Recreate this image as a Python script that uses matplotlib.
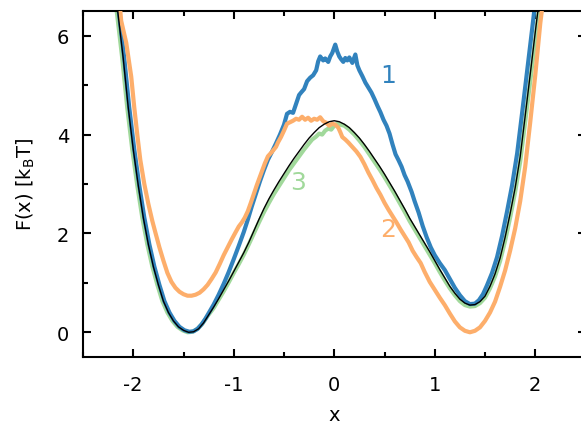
import numpy as np
import matplotlib
matplotlib.use("Agg")
import matplotlib.pyplot as plt
from matplotlib.ticker import MultipleLocator

plt.rcParams['mathtext.default'] = 'regular'
plt.rcParams['axes.unicode_minus'] = False

# curva teorica (negro)
x_teo = [-2.17, -2.15, -2.10, -2.05, -2.00, -1.95, -1.90, -1.85, -1.80, -1.75, -1.70, -1.65,
         -1.60, -1.55, -1.50, -1.45, -1.40, -1.35, -1.30, -1.25, -1.20, -1.15, -1.10, -1.05,
         -1.00, -0.95, -0.90, -0.85, -0.80, -0.75, -0.70, -0.65, -0.60, -0.55, -0.50, -0.45,
         -0.40, -0.35, -0.30, -0.25, -0.20, -0.15, -0.10, -0.05, 0.00, 0.05, 0.10, 0.15,
         0.20, 0.25, 0.30, 0.35, 0.40, 0.45, 0.50, 0.55, 0.60, 0.65, 0.70, 0.75,
         0.80, 0.85, 0.90, 0.95, 1.00, 1.05, 1.10, 1.15, 1.20, 1.25, 1.30, 1.35,
         1.40, 1.45, 1.50, 1.55, 1.60, 1.65, 1.70, 1.75, 1.80, 1.85, 1.90, 1.95,
         2.00, 2.05]
F_teo = [6.75, 6.42, 5.55, 4.55, 3.70, 2.97, 2.32, 1.78, 1.33, 0.96, 0.63, 0.40,
         0.23, 0.11, 0.04, 0.00, 0.01, 0.07, 0.19, 0.35, 0.51, 0.68, 0.86, 1.04,
         1.23, 1.42, 1.61, 1.82, 2.05, 2.28, 2.50, 2.70, 2.88, 3.05, 3.21, 3.37,
         3.52, 3.66, 3.80, 3.93, 4.04, 4.14, 4.21, 4.26, 4.28, 4.26, 4.21, 4.14,
         4.04, 3.93, 3.80, 3.66, 3.51, 3.36, 3.20, 3.03, 2.86, 2.68, 2.50, 2.31,
         2.14, 1.97, 1.80, 1.63, 1.45, 1.27, 1.10, 0.93, 0.79, 0.67, 0.59, 0.55,
         0.56, 0.62, 0.73, 0.93, 1.18, 1.50, 1.92, 2.40, 2.92, 3.55, 4.38, 5.22,
         6.07, 6.90]

# simulacion 1 (azul)
x_1 = [-2.16, -2.14, -2.09, -2.04, -1.99, -1.94, -1.89, -1.84, -1.79, -1.74, -1.69, -1.64,
       -1.59, -1.54, -1.49, -1.44, -1.40, -1.36, -1.32, -1.28, -1.24, -1.20, -1.15, -1.10,
       -1.05, -1.00, -0.95, -0.90, -0.86, -0.82, -0.78, -0.74, -0.70, -0.66, -0.62, -0.58,
       -0.54, -0.50, -0.47, -0.44, -0.41, -0.38, -0.35, -0.33, -0.30, -0.27, -0.24, -0.21,
       -0.18, -0.16, -0.14, -0.11, -0.09, -0.06, -0.04, -0.02, 0.01, 0.03, 0.05, 0.07,
       0.09, 0.11, 0.13, 0.15, 0.18, 0.21, 0.23, 0.25, 0.28, 0.31, 0.34, 0.37,
       0.40, 0.43, 0.46, 0.49, 0.52, 0.55, 0.58, 0.61, 0.64, 0.67, 0.70, 0.73,
       0.77, 0.80, 0.84, 0.88, 0.92, 0.96, 1.00, 1.05, 1.10, 1.15, 1.20, 1.25,
       1.30, 1.35, 1.40, 1.44, 1.48, 1.52, 1.57, 1.62, 1.67, 1.72, 1.77, 1.82,
       1.87, 1.92, 1.97, 2.01]
F_1 = [6.75, 6.42, 5.55, 4.55, 3.70, 2.97, 2.32, 1.78, 1.33, 0.96, 0.63, 0.40,
       0.23, 0.11, 0.04, 0.01, 0.02, 0.07, 0.16, 0.28, 0.42, 0.56, 0.76, 0.98,
       1.22, 1.48, 1.75, 2.03, 2.28, 2.55, 2.80, 3.05, 3.28, 3.49, 3.65, 3.82,
       4.00, 4.20, 4.42, 4.46, 4.44, 4.62, 4.80, 4.85, 4.92, 5.08, 5.15, 5.20,
       5.30, 5.48, 5.58, 5.50, 5.54, 5.47, 5.58, 5.65, 5.82, 5.68, 5.58, 5.52,
       5.47, 5.55, 5.50, 5.56, 5.45, 5.62, 5.40, 5.30, 5.18, 5.05, 4.95, 4.85,
       4.72, 4.58, 4.45, 4.30, 4.18, 4.02, 3.80, 3.60, 3.48, 3.35, 3.18, 3.05,
       2.84, 2.65, 2.42, 2.15, 1.92, 1.72, 1.56, 1.40, 1.26, 1.08, 0.90, 0.75,
       0.63, 0.57, 0.58, 0.65, 0.77, 0.95, 1.20, 1.52, 1.95, 2.45, 2.98, 3.62,
       4.45, 5.30, 6.15, 6.85]

# simulacion 2 (naranja)
x_2 = [-2.14, -2.12, -2.07, -2.02, -1.99, -1.96, -1.93, -1.89, -1.85, -1.81, -1.78, -1.74,
       -1.70, -1.66, -1.62, -1.58, -1.54, -1.50, -1.46, -1.42, -1.38, -1.34, -1.30, -1.26,
       -1.22, -1.18, -1.14, -1.10, -1.06, -1.02, -0.98, -0.95, -0.92, -0.89, -0.86, -0.83,
       -0.80, -0.77, -0.73, -0.69, -0.66, -0.62, -0.58, -0.56, -0.53, -0.50, -0.47, -0.44,
       -0.41, -0.38, -0.35, -0.32, -0.29, -0.26, -0.23, -0.20, -0.17, -0.14, -0.11, -0.08,
       -0.05, -0.02, 0.01, 0.04, 0.06, 0.08, 0.11, 0.14, 0.18, 0.22, 0.26, 0.30,
       0.34, 0.38, 0.42, 0.46, 0.50, 0.54, 0.58, 0.62, 0.66, 0.70, 0.74, 0.78,
       0.82, 0.86, 0.90, 0.95, 1.00, 1.05, 1.10, 1.15, 1.20, 1.25, 1.30, 1.35,
       1.40, 1.45, 1.50, 1.55, 1.60, 1.65, 1.70, 1.75, 1.80, 1.85, 1.90, 1.95,
       2.00, 2.05, 2.08]
F_2 = [6.75, 6.30, 5.86, 5.17, 4.55, 4.00, 3.49, 3.00, 2.60, 2.25, 2.02, 1.72,
       1.45, 1.20, 1.02, 0.90, 0.82, 0.77, 0.74, 0.74, 0.76, 0.80, 0.87, 0.96,
       1.08, 1.21, 1.38, 1.56, 1.72, 1.88, 2.03, 2.14, 2.22, 2.32, 2.45, 2.62,
       2.80, 2.98, 3.20, 3.42, 3.56, 3.65, 3.75, 3.84, 3.95, 4.08, 4.22, 4.25,
       4.28, 4.32, 4.30, 4.36, 4.30, 4.34, 4.28, 4.32, 4.30, 4.35, 4.27, 4.24,
       4.18, 4.22, 4.20, 4.14, 4.05, 3.95, 3.90, 3.84, 3.75, 3.66, 3.55, 3.40,
       3.23, 3.08, 2.92, 2.78, 2.62, 2.48, 2.35, 2.22, 2.08, 1.95, 1.82, 1.65,
       1.52, 1.40, 1.22, 1.02, 0.86, 0.70, 0.55, 0.38, 0.22, 0.10, 0.03, 0.00,
       0.03, 0.10, 0.23, 0.40, 0.62, 0.92, 1.25, 1.65, 2.10, 2.65, 3.35, 4.25,
       5.20, 6.25, 6.75]

# simulacion 3 (verde)
x_3 = [-2.18, -2.16, -2.11, -2.06, -2.01, -1.96, -1.91, -1.86, -1.81, -1.76, -1.71, -1.66,
       -1.61, -1.56, -1.51, -1.46, -1.41, -1.36, -1.31, -1.26, -1.20, -1.15, -1.10, -1.05,
       -1.00, -0.95, -0.90, -0.85, -0.80, -0.75, -0.70, -0.65, -0.60, -0.55, -0.50, -0.45,
       -0.40, -0.35, -0.30, -0.26, -0.22, -0.18, -0.15, -0.12, -0.09, -0.06, -0.03, 0.00,
       0.03, 0.06, 0.10, 0.15, 0.20, 0.25, 0.30, 0.35, 0.40, 0.45, 0.50, 0.55,
       0.60, 0.65, 0.70, 0.75, 0.80, 0.85, 0.90, 0.95, 1.00, 1.05, 1.10, 1.15,
       1.20, 1.25, 1.30, 1.35, 1.40, 1.45, 1.50, 1.55, 1.60, 1.65, 1.70, 1.75,
       1.80, 1.85, 1.90, 1.95, 2.00, 2.06]
F_3 = [6.75, 6.42, 5.55, 4.55, 3.70, 2.97, 2.32, 1.78, 1.33, 0.96, 0.63, 0.40,
       0.23, 0.11, 0.04, 0.00, 0.01, 0.07, 0.18, 0.33, 0.49, 0.66, 0.83, 1.01,
       1.20, 1.38, 1.57, 1.78, 2.00, 2.22, 2.43, 2.62, 2.80, 2.96, 3.12, 3.28,
       3.42, 3.56, 3.70, 3.80, 3.90, 3.96, 4.02, 4.00, 4.08, 4.12, 4.10, 4.18,
       4.22, 4.20, 4.18, 4.10, 4.00, 3.88, 3.75, 3.60, 3.45, 3.30, 3.14, 2.97,
       2.80, 2.62, 2.44, 2.25, 2.08, 1.91, 1.74, 1.57, 1.40, 1.22, 1.05, 0.89,
       0.75, 0.63, 0.55, 0.52, 0.53, 0.59, 0.70, 0.89, 1.13, 1.44, 1.85, 2.32,
       2.84, 3.45, 4.26, 5.08, 5.92, 6.90]

etiquetas = ["1", "2", "3"]
pos_etiquetas = [(0.54, 5.2), (0.54, 2.08), (-0.36, 3.05)]

azul = '#3182bd'
naranja = '#fdae6b'
verde = '#a1d99b'

fig = plt.figure(figsize=(5.81, 4.27), dpi=100)
ax = fig.add_axes([83/581, 69/427, 502.5/581, 346/427])

ax.plot(x_3, F_3, color=verde, lw=3, zorder=1)
ax.plot(x_1, F_1, color=azul, lw=3, zorder=2)
ax.plot(x_2, F_2, color=naranja, lw=3, zorder=3)
ax.plot(x_teo, F_teo, color='black', lw=1, zorder=4)

for txt, (px, py), c in zip(etiquetas, pos_etiquetas, [azul, naranja, verde]):
    ax.text(px, py, txt, color=c, fontsize=18, ha='center', va='center')

ax.set_xlim(-2.5, 2.5)
ax.set_ylim(-0.5, 6.5)
ax.xaxis.set_major_locator(MultipleLocator(1))
ax.xaxis.set_minor_locator(MultipleLocator(0.5))
ax.yaxis.set_major_locator(MultipleLocator(2))
ax.yaxis.set_minor_locator(MultipleLocator(1))
ax.tick_params(which='both', direction='in', top=True, right=True, width=1.5,
               labelsize=14)
ax.tick_params(axis='x', which='both', pad=13)
ax.tick_params(axis='y', which='both', pad=10)
ax.tick_params(which='major', length=6)
ax.tick_params(which='minor', length=3.5)
for s in ax.spines.values():
    s.set_linewidth(1.5)

ax.set_xlabel("x", fontsize=14, labelpad=8)
ax.set_ylabel(r"F(x) [k$_B$T]", fontsize=14, labelpad=14)

fig.savefig("out.png", dpi=100)
